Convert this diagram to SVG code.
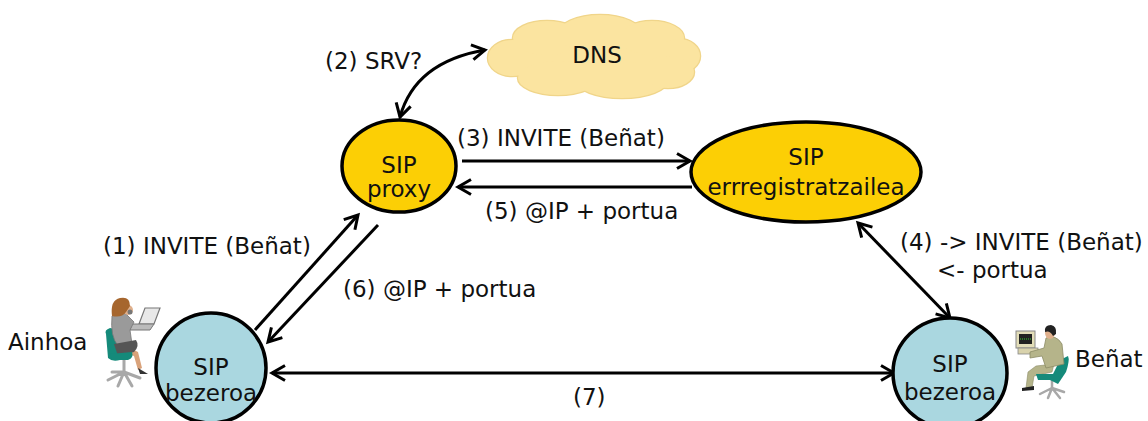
<svg xmlns="http://www.w3.org/2000/svg" width="1148" height="421" viewBox="0 0 1148 421">
  <defs>
    <style>
      text { font-family: "DejaVu Sans", "Liberation Sans", sans-serif; font-size: 23px; fill: #111; }
      .mid { text-anchor: middle; }
      .server { fill: #fccf05; stroke: #000; stroke-width: 3.5; }
      .client { fill: #aad7e0; stroke: #000; stroke-width: 3.5; }
      .link { fill: none; stroke: #000; stroke-width: 3; }
      .one { marker-end: url(#head); }
      .two { marker-start: url(#head); marker-end: url(#head); }
    </style>
    <marker id="head" viewBox="-16 -10 20 20" refX="0" refY="0" markerWidth="20" markerHeight="20" markerUnits="userSpaceOnUse" orient="auto-start-reverse">
      <path d="M-13,-7.5 L0,0 L-13,7.5" fill="none" stroke="#000" stroke-width="3"/>
    </marker>
    <!-- cloud built from overlapping puffs -->
    <g id="puffs">
      <ellipse cx="597" cy="57" rx="92" ry="30"/>
      <ellipse cx="512" cy="58" rx="24" ry="18"/>
      <ellipse cx="547" cy="38" rx="34" ry="17"/>
      <ellipse cx="600" cy="34" rx="42" ry="19"/>
      <ellipse cx="652" cy="38" rx="32" ry="17"/>
      <ellipse cx="679" cy="56" rx="21" ry="17"/>
      <ellipse cx="558" cy="78" rx="40" ry="17"/>
      <ellipse cx="622" cy="80" rx="46" ry="18"/>
      <ellipse cx="668" cy="72" rx="26" ry="16"/>
    </g>
  </defs>

  <rect width="1148" height="421" fill="#fff"/>

  <!-- connectors -->
  <g id="connectors">
    <path class="link two" d="M400,117 Q415,62 485,50"/>
    <path class="link one" d="M462,161 L690,161"/>
    <path class="link one" d="M692,187 L458,187"/>
    <path class="link one" d="M255,330 L358,215"/>
    <path class="link one" d="M378,225 L268,342"/>
    <path class="link two" d="M858,223 L950,318"/>
    <path class="link two" d="M272,373 L894,373"/>
  </g>

  <!-- connector labels -->
  <g id="labels">
    <text x="325" y="69">(2) SRV?</text>
    <text x="457" y="146">(3) INVITE (Beñat)</text>
    <text x="485" y="219">(5) @IP + portua</text>
    <text x="103" y="254">(1) INVITE (Beñat)</text>
    <text x="343" y="297">(6) @IP + portua</text>
    <text x="900" y="250">(4) -&gt; INVITE (Beñat)</text>
    <text x="937" y="278">&lt;- portua</text>
    <text x="573" y="405">(7)</text>
  </g>

  <!-- DNS cloud -->
  <g id="dns">
    <use href="#puffs" fill="#f0d58a" stroke="#f0d58a" stroke-width="2.5"/>
    <use href="#puffs" fill="#fbe4a0"/>
    <text class="mid" x="597" y="63">DNS</text>
  </g>

  <!-- SIP proxy -->
  <g id="proxy">
    <ellipse class="server" cx="399" cy="166" rx="57" ry="46"/>
    <text class="mid" x="399" y="173">SIP</text>
    <text class="mid" x="399" y="197">proxy</text>
  </g>

  <!-- SIP registrar -->
  <g id="registrar">
    <ellipse class="server" cx="806" cy="172" rx="115" ry="50"/>
    <text class="mid" x="806" y="165">SIP</text>
    <text class="mid" x="806" y="195">errregistratzailea</text>
  </g>

  <!-- left SIP client -->
  <g id="client-left">
    <ellipse class="client" cx="211" cy="368" rx="55" ry="55"/>
    <text class="mid" x="211" y="375">SIP</text>
    <text class="mid" x="211" y="401">bezeroa</text>
  </g>

  <!-- right SIP client -->
  <g id="client-right">
    <ellipse class="client" cx="950" cy="373" rx="57" ry="55"/>
    <text class="mid" x="950" y="372">SIP</text>
    <text class="mid" x="950" y="400">bezeroa</text>
  </g>

  <!-- user: Ainhoa -->
  <g id="ainhoa">
    <text x="8" y="350">Ainhoa</text>
    <!-- chair base -->
    <g stroke="#a8a8a8" stroke-width="3" stroke-linecap="round" fill="none">
      <path d="M124,356 L124,372"/>
      <path d="M124,372 L108,380 M124,372 L140,378 M124,372 L118,386 M124,372 L132,386 M124,372 L112,372"/>
    </g>
    <!-- laptop -->
    <path d="M139,324 L145,308 L160,308 L154,324 Z" fill="#e8e8e8" stroke="#777" stroke-width="1.2"/>
    <path d="M132,324 L154,324 L150,330 L130,330 Z" fill="#bbb" stroke="#777" stroke-width="1"/>
    <!-- legs -->
    <path d="M130,348 L138,352 L142,368 L138,370 L134,356 L128,354 Z" fill="#d9a27a"/>
    <path d="M138,368 L148,374 L140,374 Z" fill="#333"/>
    <!-- chair back -->
    <path d="M106,334 Q104,330 110,328 L120,330 Q124,336 122,344 L120,360 Q112,362 108,358 Z" fill="#158a7a"/>
    <!-- torso -->
    <path d="M112,316 Q118,310 126,314 L134,322 L130,330 L132,344 L118,346 Q110,336 112,316 Z" fill="#9a9a9a" stroke="#777" stroke-width="0.8"/>
    <!-- skirt -->
    <path d="M114,344 L136,340 Q140,346 134,352 L118,356 Z" fill="#555"/>
    <!-- seat -->
    <path d="M110,354 L132,352 Q134,358 128,360 L112,360 Z" fill="#158a7a"/>
    <!-- head -->
    <circle cx="128" cy="310" r="5" fill="#e0b08c"/>
    <path d="M112,316 Q110,300 120,298 Q130,296 130,306 L126,312 Q122,318 112,316 Z" fill="#a6662e"/>
    <circle cx="130" cy="312" r="2.5" fill="#777"/>
  </g>

  <!-- user: Beñat -->
  <g id="benat">
    <text x="1075" y="367">Beñat</text>
    <!-- monitor -->
    <rect x="1016" y="331" width="19" height="17" fill="#e2ddb8" stroke="#888" stroke-width="1"/>
    <rect x="1019" y="334" width="13" height="10" fill="#222"/>
    <path d="M1020,339 L1031,339" stroke="#3c3" stroke-width="1.2" stroke-dasharray="1 1"/>
    <rect x="1018" y="348" width="20" height="6" fill="#d8d2ac" stroke="#888" stroke-width="0.8"/>
    <!-- chair base -->
    <g stroke="#a8a8a8" stroke-width="2.5" stroke-linecap="round" fill="none">
      <path d="M1052,378 L1052,388"/>
      <path d="M1052,388 L1040,394 M1052,388 L1064,392 M1052,388 L1048,398 M1052,388 L1060,398"/>
    </g>
    <!-- chair back -->
    <path d="M1060,360 L1068,356 Q1070,360 1066,372 L1058,384 L1050,380 Z" fill="#158a7a"/>
    <!-- legs -->
    <path d="M1036,366 L1054,364 L1052,372 L1034,376 L1032,388 L1026,388 L1028,372 Z" fill="#b5b48a" stroke="#8c8b66" stroke-width="0.6"/>
    <path d="M1022,388 L1034,386 L1034,390 L1022,391 Z" fill="#222"/>
    <!-- seat -->
    <path d="M1036,374 L1058,374 L1060,380 L1038,380 Z" fill="#158a7a"/>
    <!-- torso -->
    <path d="M1046,338 Q1056,334 1062,344 L1064,364 L1046,368 L1042,356 L1030,358 L1030,352 L1044,348 Z" fill="#b5b48a" stroke="#8c8b66" stroke-width="0.8"/>
    <!-- head -->
    <ellipse cx="1050" cy="333" rx="5" ry="6" fill="#e0b08c"/>
    <path d="M1045,332 Q1044,325 1051,325 Q1057,326 1056,334 L1053,336 Q1050,330 1045,332 Z" fill="#222"/>
  </g>
</svg>
